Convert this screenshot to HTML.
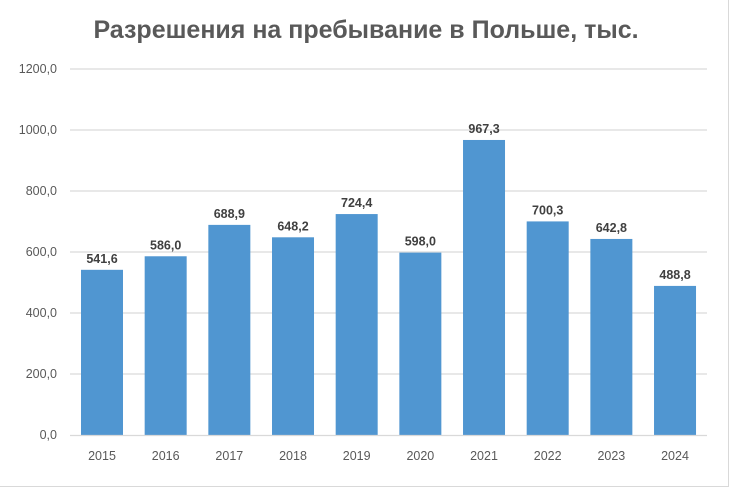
<!DOCTYPE html>
<html><head><meta charset="utf-8"><style>
html,body{margin:0;padding:0;background:#fff;}
svg{display:block;font-family:"Liberation Sans",sans-serif;}
</style></head><body>
<svg width="732" height="496" viewBox="0 0 732 496">
<rect x="0" y="0" width="732" height="496" fill="#fff"/>
<line x1="0" y1="486.5" x2="729" y2="486.5" stroke="#d9d9d9"/>
<line x1="728.5" y1="0" x2="728.5" y2="487" stroke="#d9d9d9"/>
<text x="366" y="38" text-anchor="middle" font-size="25" font-weight="bold" fill="#595959">Разрешения на пребывание в Польше, тыс.</text>
<g stroke="#d9d9d9" stroke-width="1.3">
<line x1="70" y1="69" x2="707" y2="69"/>
<line x1="70" y1="130" x2="707" y2="130"/>
<line x1="70" y1="191" x2="707" y2="191"/>
<line x1="70" y1="252" x2="707" y2="252"/>
<line x1="70" y1="313" x2="707" y2="313"/>
<line x1="70" y1="374" x2="707" y2="374"/>
</g>
<g font-size="12.5" fill="#595959" text-anchor="end">
<text x="57" y="73">1200,0</text>
<text x="57" y="134">1000,0</text>
<text x="57" y="195">800,0</text>
<text x="57" y="256">600,0</text>
<text x="57" y="317">400,0</text>
<text x="57" y="378">200,0</text>
<text x="57" y="439">0,0</text>
</g>
<g fill="#5096d1" id="bars"></g>
<line x1="70" y1="435.5" x2="707" y2="435.5" stroke="#d9d9d9" stroke-width="1.3"/>
<g id="labels" font-size="12.5" text-anchor="middle"></g>
<script>
var v=[541.6,586.0,688.9,648.2,724.4,598.0,967.3,700.3,642.8,488.8];
var yrs=[2015,2016,2017,2018,2019,2020,2021,2022,2023,2024];
var ns="http://www.w3.org/2000/svg",b=document.getElementById("bars"),l=document.getElementById("labels");
for(var i=0;i<10;i++){
 var x=81+i*63.67,h=v[i]*366/1200,y=435-h;
 var r=document.createElementNS(ns,"rect");r.setAttribute("x",x);r.setAttribute("y",y);r.setAttribute("width",42);r.setAttribute("height",h);b.appendChild(r);
 var t=document.createElementNS(ns,"text");t.setAttribute("x",x+21);t.setAttribute("y",y-7);t.setAttribute("font-weight","bold");t.setAttribute("fill","#404040");t.textContent=v[i].toFixed(1).replace(".",",");l.appendChild(t);
 var t2=document.createElementNS(ns,"text");t2.setAttribute("x",x+21);t2.setAttribute("y",460);t2.setAttribute("fill","#595959");t2.textContent=yrs[i];l.appendChild(t2);
}
</script>
</svg>
</body></html>
